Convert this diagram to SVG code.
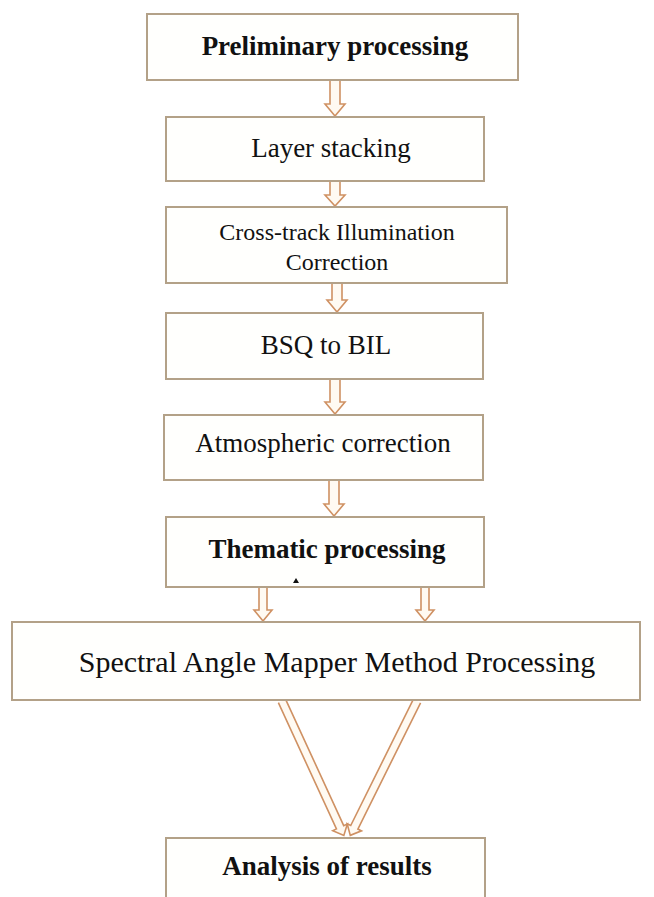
<svg xmlns="http://www.w3.org/2000/svg" width="654" height="897" viewBox="0 0 654 897">
<defs>
<style>
.box{fill:#fffffd;stroke:#b3a188;stroke-width:2}
.t{font-family:"Liberation Serif","Times New Roman",serif;fill:#111;text-anchor:middle}
.b{font-weight:bold}
.arr{fill:#fffaf2;stroke:#cf9163;stroke-width:1.6;stroke-linejoin:miter}
</style>
</defs>
<rect width="654" height="897" fill="#ffffff"/>
<g id="connectors">
<path class="arr" d="M330,80 V104 H325 L335,116 L345,104 H340 V80"/>
<path class="arr" d="M330,181 V195 H325 L335,206 L345,195 H340 V181"/>
<path class="arr" d="M332,283 V300 H327 L337,312 L347,300 H342 V283"/>
<path class="arr" d="M330,379 V402 H325 L335,414 L345,402 H340 V379"/>
<path class="arr" d="M329,480 V504 H324 L334,516 L344,504 H339 V480"/>
<path class="arr" d="M259,587 V610 H254 L263,621 L272,610 H267 V587"/>
<path class="arr" d="M421,587 V610 H416 L425,621 L434,610 H429 V587"/>
<path class="arr" transform="translate(282,701) rotate(-24.7)" d="M-4,0 V139 H-8 L0,148 L8,139 H4 V0"/>
<path class="arr" transform="translate(417,701) rotate(26.4)" d="M-4,0 V141 H-8 L0,150 L8,141 H4 V0"/>
</g>
<g id="node-preliminary">
<rect class="box" x="147" y="14" width="371" height="66"/>
<text class="t b" x="335" y="55" font-size="27">Preliminary processing</text>
</g>
<g id="node-layer">
<rect class="box" x="166" y="117" width="318" height="64"/>
<text class="t" x="331" y="157" font-size="27">Layer stacking</text>
</g>
<g id="node-crosstrack">
<rect class="box" x="166" y="207" width="341" height="76"/>
<text class="t" x="337" y="240" font-size="24">Cross-track Illumination</text>
<text class="t" x="337" y="270" font-size="24">Correction</text>
</g>
<g id="node-bsq">
<rect class="box" x="166" y="313" width="317" height="66"/>
<text class="t" x="326" y="354" font-size="27">BSQ to BIL</text>
</g>
<g id="node-atmospheric">
<rect class="box" x="164" y="415" width="319" height="65"/>
<text class="t" x="323" y="452" font-size="27">Atmospheric correction</text>
</g>
<g id="node-thematic">
<rect class="box" x="166" y="517" width="318" height="70"/>
<text class="t b" x="327" y="558" font-size="27">Thematic processing</text>
<path d="M293,583 L296,578 L299,583 Z" fill="#111"/>
</g>
<g id="node-sam">
<rect class="box" x="12" y="622" width="628" height="78"/>
<text class="t" x="337" y="672" font-size="30">Spectral Angle Mapper Method Processing</text>
</g>
<g id="node-analysis">
<rect class="box" x="166" y="838" width="319" height="80"/>
<text class="t b" x="327" y="875" font-size="27">Analysis of results</text>
</g>
</svg>
